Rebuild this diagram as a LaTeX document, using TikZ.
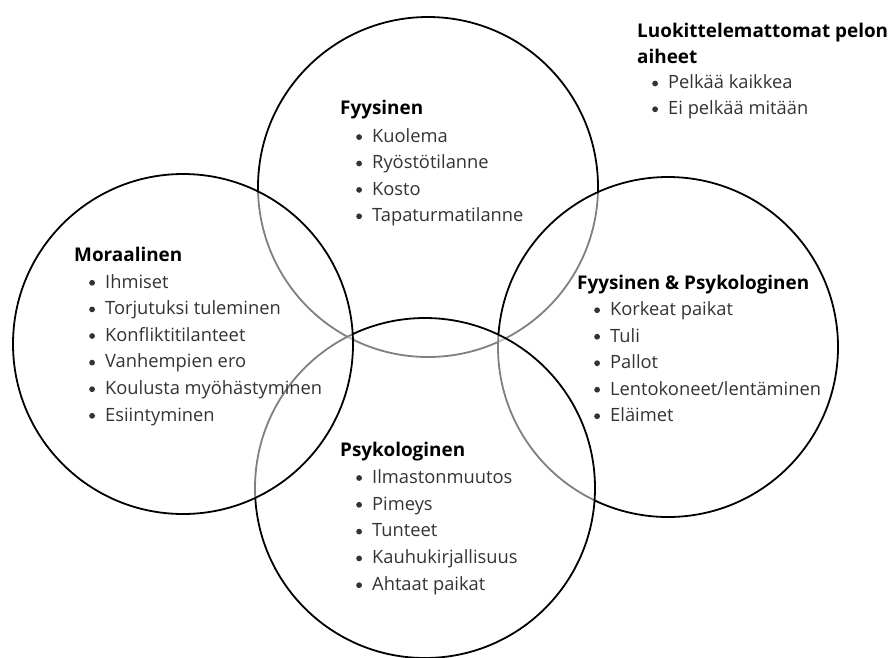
\documentclass[tikz,border=0pt]{standalone}
\usepackage{fontspec}
\setmainfont{Open Sans}
\newcommand{\blt}{\makebox[16pt][l]{\tikz[baseline=0pt,x=1pt,y=1pt]\fill (2.9,5.3) circle (2.9);}}
\begin{document}
\begin{tikzpicture}[x=1pt,y=-1pt,
    ring/.style={draw=black,line width=1.8pt,fill=white,fill opacity=0.5},
    head/.style={anchor=base west,inner sep=0pt,font=\fontsize{18.9}{22}\selectfont\bfseries},
    item/.style={anchor=base west,inner sep=0pt,text=black!80,font=\fontsize{18.3}{22}\selectfont}]
        \useasboundingbox (0,0) rectangle (889,657);
        % renkaat
        \draw[ring] (428,187) circle (170pt);
        \draw[ring] (668,347) circle (170pt);
        \draw[ring] (425,488) circle (170pt);
        \draw[ring] (183,344) circle (170pt);
        % Fyysinen
        \node[head] (fyys) at (340,114) {Fyysinen};
        \foreach \t [count=\i] in {Kuolema,Ryöstötilanne,Kosto,Tapaturmatilanne}
            \node[item] (fyys-\i) at (356,{116+26.4*\i}) {\blt\t};
        % Moraalinen
        \node[head] (mor) at (74,261) {Moraalinen};
        \foreach \t [count=\i] in {Ihmiset,Torjutuksi tuleminen,Konfliktitilanteet,Vanhempien ero,Koulusta myöhästyminen,Esiintyminen}
            \node[item] (mor-\i) at (89,{261.5+26.6*\i}) {\blt\t};
        % Fyysinen & Psykologinen
        \node[head] (fp) at (577,289) {Fyysinen \& Psykologinen};
        \foreach \t [count=\i] in {Korkeat paikat,Tuli,Pallot,Lentokoneet/lentäminen,Eläimet}
            \node[item] (fp-\i) at (594,{289+26.5*\i}) {\blt\t};
        % Psykologinen
        \node[head] (psy) at (340,456) {Psykologinen};
        \foreach \t [count=\i] in {Ilmastonmuutos,Pimeys,Tunteet,Kauhukirjallisuus,Ahtaat paikat}
            \node[item] (psy-\i) at (356,{456.5+26.8*\i}) {\blt\t};
        % Luokittelemattomat
        \node[head] (luo) at (637,37) {Luokittelemattomat pelon};
        \node[head] (luo-b) at (637,63) {aiheet};
        \foreach \t [count=\i] in {Pelkää kaikkea,Ei pelkää mitään}
            \node[item] (luo-\i) at (652,{63+25.8*\i}) {\blt\t};
    \end{tikzpicture}
\end{document}
